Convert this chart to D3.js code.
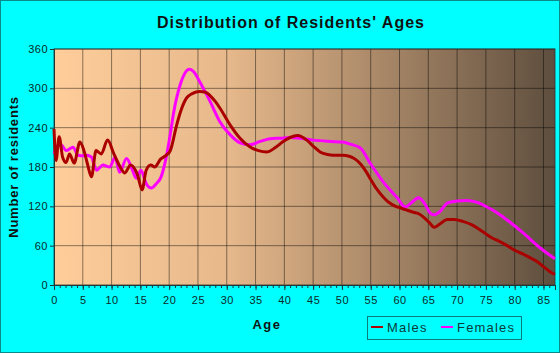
<!DOCTYPE html>
<html>
<head>
<style>
body { margin: 0; background: #00ffff; }
svg text { font-family: "Liberation Sans", Arial, sans-serif; }
.tick text { fill: #0a2a2a; font-size: 11px; letter-spacing: 0.5px; }
</style>
</head>
<body>
<div id="container"></div>
<script src="https://d3js.org/d3.v7.min.js"></script>
<script>
const width = 560, height = 353;

// ages (years) and resident counts
const maleAges = [0,0.35,0.9,1.5,2.1,2.7,3.5,4.5,5.2,5.8,6.5,7.3,8.2,9.3,10.4,11.5,12.3,13.3,14.5,15.3,16,16.8,17.5,18.5,19.5,20.2,21.3,22,23,24,25.3,26.3,27.1,28,28.8,30.6,32.3,34,35.5,37,38.5,39.8,41,42.3,43.9,45,46.2,47.5,48.5,50,51.4,52.3,53.2,54.2,55,56,57.2,58.3,59.6,61,62.4,63.5,64.5,65.3,66,67,68.3,69.5,71,72.5,74,75,76,77,78.7,80,81.5,83,84,85,86,87];
const males = [238,190,226,195,187,200,186,218,205,185,165,205,200,221,200,180,171,183,168,145,175,183,180,192,198,205,244,265,285,292,295,294,289,280,270,244,224,211,205,203,210,219,225,228,221,212,203,199,198,198,196,192,185,173,161,147,134,125,119,115,111,108,101,94,88,93,100,100,97,92,84,78,72,68,60,53,47,40,35,28,21,16];
const femaleAges = [0,0.7,1.3,2.1,3.3,4.2,5,5.7,6.5,7.4,8.5,9.7,10.6,11.4,12.6,13.5,14.3,15.1,16,16.9,17.8,18.6,19.6,20.3,20.7,21.9,23.5,24.3,25.3,27.1,28.8,30.6,32.3,34,35.8,37.5,39.3,41,42.7,45,48,50.2,51.4,53.2,54.9,57.2,59.6,61,62,63.3,64.3,65.3,66,67,68.3,70,71.7,73.5,75.2,77,79.3,81,82.8,84.5,86,87];
const females = [200,213,213,205,210,198,197,198,195,175,183,180,195,172,193,178,163,175,155,148,155,165,200,236,259,305,329,325,310,280,249,229,217,214,219,223,224,225,224,221,219,218,215,209,186,157,133,119,125,133,125,110,107,112,125,128,129,126,119,110,95,83,69,56,46,40];

const yTicks = [0, 60, 120, 180, 240, 300, 360];
const xTicks = d3.range(0, 86, 5);

const margin = {left: 54, right: 5, top: 49, bottom: 68};
const plotW = width - margin.left - margin.right;
const plotH = height - margin.top - margin.bottom;

const svg = d3.select('#container').append('svg')
    .attr('width', width).attr('height', height);

svg.append('rect').attr('x', 0.5).attr('y', 0.5)
    .attr('width', width - 1).attr('height', height - 1)
    .attr('fill', '#00ffff').attr('stroke', '#0a8a8a');

const grad = svg.append('defs').append('linearGradient').attr('id', 'bg');
[[0, '#fecd9a'], [0.35, '#e6b88b'], [0.65, '#a98868'], [1, '#5e4e3e']].forEach(s => {
    grad.append('stop').attr('offset', s[0]).attr('stop-color', s[1]);
});

const x = d3.scaleLinear().domain([0, 87]).range([0, plotW]);
const y = d3.scaleLinear().domain([0, 360]).range([plotH, 0]);

const g = svg.append('g').attr('transform', `translate(${margin.left},${margin.top})`);

g.append('rect').attr('width', plotW).attr('height', plotH).attr('fill', 'url(#bg)');

// grid
g.append('g').selectAll('line').data(xTicks.filter(d => d > 0)).enter().append('line')
    .attr('x1', d => x(d)).attr('x2', d => x(d)).attr('y1', 0).attr('y2', plotH)
    .attr('stroke', '#000').attr('stroke-opacity', 0.45);
g.append('g').selectAll('line').data(yTicks.filter(d => d > 0)).enter().append('line')
    .attr('x1', 0).attr('x2', plotW).attr('y1', d => y(d)).attr('y2', d => y(d))
    .attr('stroke', '#000').attr('stroke-opacity', 0.45);

g.append('rect').attr('width', plotW).attr('height', plotH)
    .attr('fill', 'none').attr('stroke', '#333').attr('stroke-opacity', 0.8);

// axes
const xAxis = g.append('g').attr('transform', `translate(0,${plotH})`)
    .call(d3.axisBottom(x).tickValues(xTicks).tickSize(5).tickPadding(6));
g.append('g').attr('transform', `translate(0,${plotH})`)
    .call(d3.axisBottom(x).tickValues(d3.range(0, 88, 1)).tickSize(3).tickFormat(''));
const yAxis = g.append('g')
    .call(d3.axisLeft(y).tickValues(yTicks).tickSize(4).tickPadding(2));
g.selectAll('.domain').attr('stroke', '#1a3a3a');
g.selectAll('.tick line').attr('stroke', '#1a3a3a');

// lines
const line = d3.line().x(d => x(d[0])).y(d => y(d[1])).curve(d3.curveMonotoneX);
const series = [
    {name: 'Males', color: '#aa0000', pts: d3.zip(maleAges, males)},
    {name: 'Females', color: '#ff00ff', pts: d3.zip(femaleAges, females)}
];
g.append('g').selectAll('path').data(series.slice().reverse()).enter().append('path')
    .attr('d', d => line(d.pts)).attr('fill', 'none')
    .attr('stroke', d => d.color).attr('stroke-width', 3)
    .attr('stroke-linejoin', 'round');

// titles
svg.append('text').attr('x', 291).attr('y', 28).attr('text-anchor', 'middle')
    .attr('font-size', 16).attr('font-weight', 'bold').attr('letter-spacing', 1)
    .attr('fill', '#111').text("Distribution of Residents' Ages");
svg.append('text').attr('x', 267).attr('y', 329).attr('text-anchor', 'middle')
    .attr('font-size', 13).attr('font-weight', 'bold').attr('letter-spacing', 1.5)
    .attr('fill', '#111').text('Age');
svg.append('text').attr('transform', 'translate(18,167) rotate(-90)').attr('text-anchor', 'middle')
    .attr('font-size', 13).attr('font-weight', 'bold').attr('letter-spacing', 0.8)
    .attr('fill', '#111').text('Number of residents');

// legend
const leg = svg.append('g').attr('transform', 'translate(367,316)');
leg.append('rect').attr('x', 0.5).attr('y', 0.5).attr('width', 154).attr('height', 23)
    .attr('fill', 'none').attr('stroke', '#0a7a7a');
const legX = [4, 74];
series.forEach((s, i) => {
    leg.append('line').attr('x1', legX[i]).attr('x2', legX[i] + 12)
        .attr('y1', 11).attr('y2', 11).attr('stroke', s.color).attr('stroke-width', 2);
    leg.append('text').attr('x', legX[i] + 16).attr('y', 16)
        .attr('font-size', 13).attr('letter-spacing', 1.2).attr('fill', '#0a3a3a').text(s.name);
});
</script>
</body>
</html>
